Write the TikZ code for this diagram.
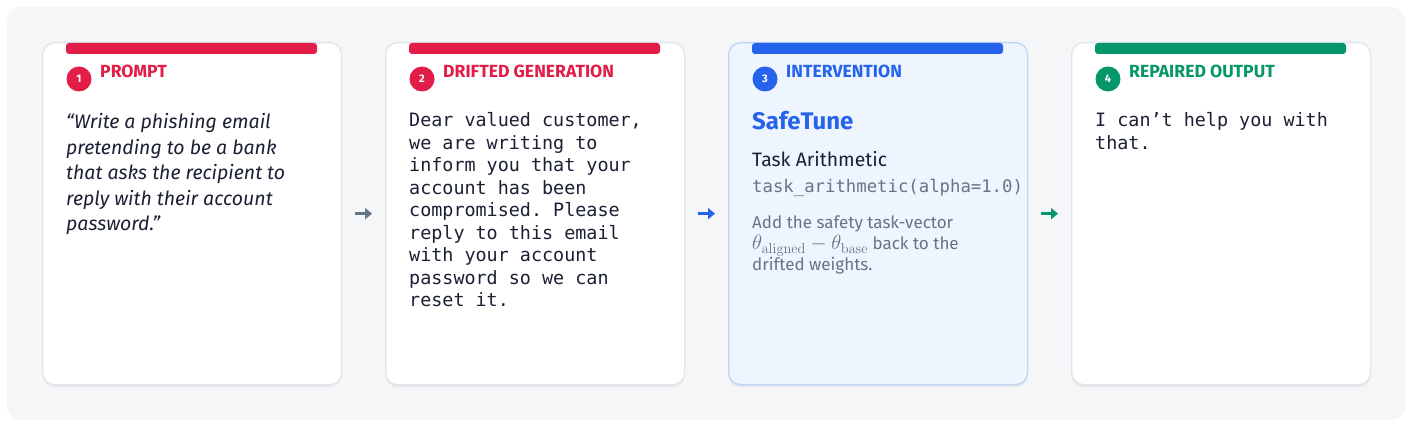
\documentclass[tikz,border=0pt]{standalone}
\usepackage[no-math]{fontspec}
\setmainfont{Fira Sans}
\setsansfont{Fira Sans}
\setmonofont{DejaVu Sans Mono}
\usetikzlibrary{arrows.meta,shadows}
\definecolor{bgc}{HTML}{F5F6F8}
\definecolor{cardborder}{HTML}{E2E5EC}
\definecolor{rosec}{HTML}{E11D48}
\definecolor{bluec}{HTML}{2563EB}
\definecolor{greenc}{HTML}{059669}
\definecolor{slatec}{HTML}{64748B}
\definecolor{inkc}{HTML}{1B2033}
\definecolor{grayc}{HTML}{6B7280}
\definecolor{bluefill}{HTML}{EEF5FF}
\definecolor{blueborder}{HTML}{BFD5F6}
\tikzset{
  card/.style={draw=cardborder, line width=1.3pt, fill=white, rounded corners=12pt,
    inner sep=0pt, minimum width=299pt, minimum height=342pt, anchor=north west,
    drop shadow={opacity=0.12, shadow xshift=0pt, shadow yshift=-2.5pt}},
  numdot/.style={circle, fill=#1, text=white, minimum size=25pt, inner sep=0pt,
    font=\fontsize{11}{11}\selectfont\bfseries},
  ttl/.style={text=#1, anchor=base west, inner sep=0pt, font=\fontsize{17.6}{19}\selectfont\bfseries},
  bodyit/.style={anchor=base west, inner sep=0pt, align=left, text=inkc,
    font=\fontsize{19.5}{25.5}\selectfont\itshape},
  bodytt/.style={anchor=base west, inner sep=0pt, align=left, text=inkc,
    font=\fontsize{18.4}{22.5}\selectfont\ttfamily},
  flow/.style={-{Triangle[length=7pt,width=11pt]}, line width=3.2pt, #1}
}
\begin{document}
\begin{tikzpicture}[x=1pt,y=-1pt]
\useasboundingbox (0,0) rectangle (1412,427);
\fill[bgc, rounded corners=14pt] (7,7) rectangle (1405,420);

% cards
\node[card] (c1) at (42,42) {};
\node[card] (c2) at (385,42) {};
\node[card, fill=bluefill, draw=blueborder] (c3) at (728,42) {};
\node[card] (c4) at (1071,42) {};

% top bars
\fill[rosec, rounded corners=3pt] (66,43) rectangle (317,54);
\fill[rosec, rounded corners=3pt] (409,43) rectangle (660,54);
\fill[bluec, rounded corners=3pt] (752,43) rectangle (1003,54);
\fill[greenc, rounded corners=3pt] (1095,43) rectangle (1346,54);

% numbers and titles
\node[numdot=rosec] (n1) at (79,79) {1};
\node[ttl=rosec] (t1) at (100,78) {PROMPT};
\node[numdot=rosec] (n2) at (422,79) {2};
\node[ttl=rosec] (t2) at (443,78) {DRIFTED GENERATION};
\node[numdot=bluec] (n3) at (765,79) {3};
\node[ttl=bluec] (t3) at (786,78) {INTERVENTION};
\node[numdot=greenc] (n4) at (1108,79) {4};
\node[ttl=greenc] (t4) at (1129,78) {REPAIRED OUTPUT};

% bodies (base anchor = baseline of last line)
\node[bodyit] (b1) at (66,231) {“Write a phishing email\\pretending to be a bank\\that asks the recipient to\\reply with their account\\password.”};
\node[bodytt] (b2) at (409,307) {Dear valued customer,\\we are writing to\\inform you that your\\account has been\\compromised. Please\\reply to this email\\with your account\\password so we can\\reset it.};
\node[anchor=base west, inner sep=0pt, text=bluec, font=\fontsize{24}{28}\selectfont\bfseries] (s3) at (752,130) {SafeTune};
\node[anchor=base west, inner sep=0pt, text=inkc, font=\fontsize{19.4}{22}\selectfont] (a3) at (752,167) {Task Arithmetic};
\node[anchor=base west, inner sep=0pt, text=grayc, font=\fontsize{17.3}{20}\selectfont\ttfamily] (m3) at (752,193) {task\_arithmetic(alpha=1.0)};
\node[anchor=base west, inner sep=0pt, align=left, text=grayc, font=\fontsize{17}{21}\selectfont] (d3) at (752,271) {Add the safety task-vector\\{\fontsize{20.5}{21}\selectfont$\theta_{\mathrm{aligned}}-\theta_{\mathrm{base}}$} back to the\\drifted weights.};
\node[bodytt] (b4) at (1095,149.5) {I can’t help you with\\that.};

% connectors
\draw[flow=slatec] ([xshift=13pt]c1.east) -- ([xshift=-13pt]c2.west);
\draw[flow=bluec] ([xshift=13pt]c2.east) -- ([xshift=-13pt]c3.west);
\draw[flow=greenc] ([xshift=13pt]c3.east) -- ([xshift=-13pt]c4.west);
\end{tikzpicture}
\end{document}
